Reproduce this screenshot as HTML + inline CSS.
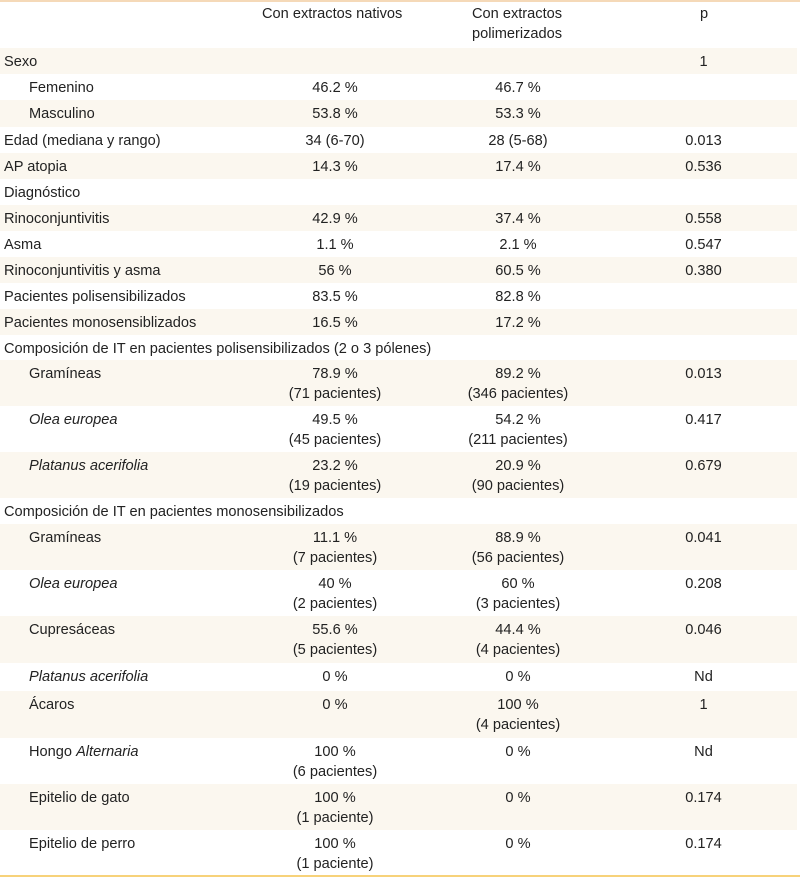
<!DOCTYPE html>
<html><head><meta charset="utf-8"><style>
body{margin:0;width:800px;height:878px;background:#fff;font-family:"Liberation Sans",Arial,sans-serif;font-size:14.6px;color:#222;position:relative;overflow:hidden}
.top{position:absolute;left:0;top:0;width:800px;height:2px;background:#f5d9b8}
.bot{position:absolute;left:0;top:875px;width:800px;height:2px;background:#f7d27a}
.row{position:absolute;left:0;width:797px}
.s{background:#fbf7ef}
.c{position:absolute;top:4px;line-height:20px;white-space:nowrap}
.l{left:4px}.i{left:29px}
.a{left:250px;width:170px;text-align:center}
.b{left:420px;width:196px;text-align:center}
.p{left:610px;width:187px;text-align:center}
</style></head><body>
<div class="top"></div>
<div class="row" style="top:0;height:48px">
<div class="c" style="left:262px">Con extractos nativos</div>
<div class="c" style="left:472px">Con extractos<br>polimerizados</div>
<div class="c" style="left:700px">p</div>
</div>
<div id="rows"></div>
<div class="bot"></div>
<script>
const rows=[
[48,26,'l','Sexo','','','1'],
[74,26,'i','Femenino','46.2 %','46.7 %',''],
[100,27,'i','Masculino','53.8 %','53.3 %',''],
[127,26,'l','Edad (mediana y rango)','34 (6-70)','28 (5-68)','0.013'],
[153,26,'l','AP atopia','14.3 %','17.4 %','0.536'],
[179,26,'l','Diagnóstico','','',''],
[205,26,'l','Rinoconjuntivitis','42.9 %','37.4 %','0.558'],
[231,26,'l','Asma','1.1 %','2.1 %','0.547'],
[257,26,'l','Rinoconjuntivitis y asma','56 %','60.5 %','0.380'],
[283,26,'l','Pacientes polisensibilizados','83.5 %','82.8 %',''],
[309,26,'l','Pacientes monosensiblizados','16.5 %','17.2 %',''],
[335,25,'l','Composición de IT en pacientes polisensibilizados (2 o 3 pólenes)','','',''],
[360,46,'i','Gramíneas','78.9 %<br>(71 pacientes)','89.2 %<br>(346 pacientes)','0.013'],
[406,46,'i','<i>Olea europea</i>','49.5 %<br>(45 pacientes)','54.2 %<br>(211 pacientes)','0.417'],
[452,46,'i','<i>Platanus acerifolia</i>','23.2 %<br>(19 pacientes)','20.9 %<br>(90 pacientes)','0.679'],
[498,26,'l','Composición de IT en pacientes monosensibilizados','','',''],
[524,46,'i','Gramíneas','11.1 %<br>(7 pacientes)','88.9 %<br>(56 pacientes)','0.041'],
[570,46,'i','<i>Olea europea</i>','40 %<br>(2 pacientes)','60 %<br>(3 pacientes)','0.208'],
[616,47,'i','Cupresáceas','55.6 %<br>(5 pacientes)','44.4 %<br>(4 pacientes)','0.046'],
[663,28,'i','<i>Platanus acerifolia</i>','0 %','0 %','Nd'],
[691,47,'i','Ácaros','0 %','100 %<br>(4 pacientes)','1'],
[738,46,'i','Hongo <i>Alternaria</i>','100 %<br>(6 pacientes)','0 %','Nd'],
[784,46,'i','Epitelio de gato','100 %<br>(1 paciente)','0 %','0.174'],
[830,45,'i','Epitelio de perro','100 %<br>(1 paciente)','0 %','0.174']
];
const host=document.getElementById('rows');
rows.forEach((r,k)=>{
 const d=document.createElement('div');
 d.className='row'+(k%2===0?' s':'');
 d.style.top=r[0]+'px';d.style.height=r[1]+'px';
 
 
 d.innerHTML='<div class="c '+r[2]+'">'+r[3]+'</div>'+
 '<div class="c a">'+r[4]+'</div>'+
 '<div class="c b">'+r[5]+'</div>'+
 '<div class="c p">'+r[6]+'</div>';
 host.appendChild(d);
});
</script>
</body></html>
